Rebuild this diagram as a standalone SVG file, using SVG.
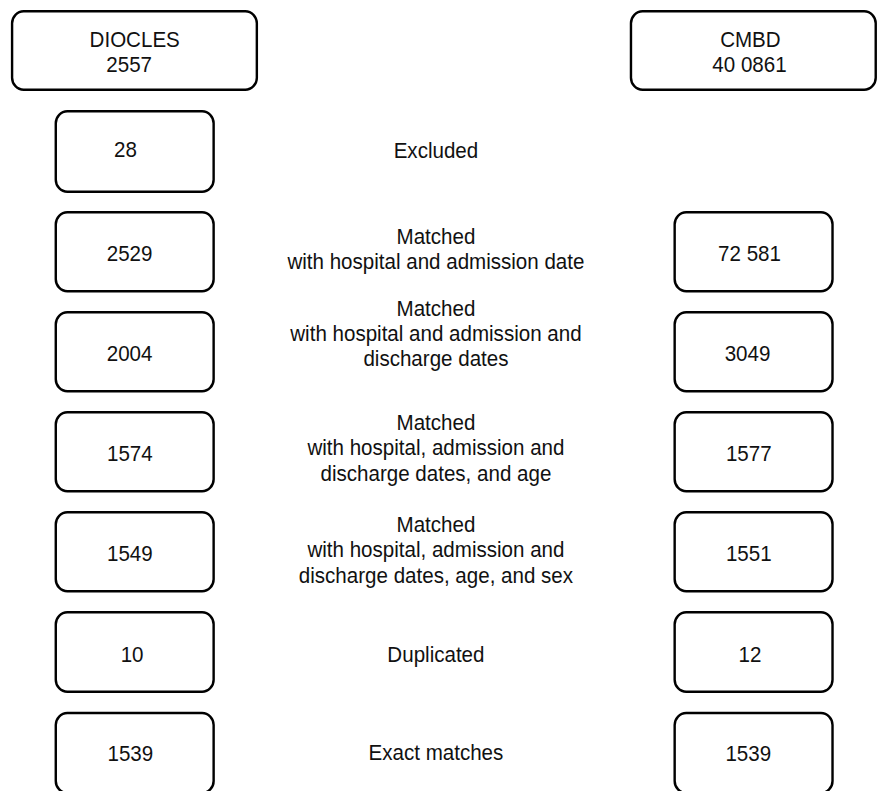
<svg xmlns="http://www.w3.org/2000/svg" width="895" height="791" viewBox="0 0 895 791">
<style>
.box{fill:#fff;stroke:#000;stroke-width:2.5}
text{font-family:"Liberation Sans",Arial,sans-serif;font-size:21.3px;fill:#111;text-anchor:middle}
</style>
<rect width="895" height="791" fill="#fff"/>
<g transform="matrix(0.9655 0 0 1 0.5 0)">
<g id="connectors"></g>
<g id="diocles"><rect class="box" x="12" y="11.25" width="253.5" height="78.5" rx="12"/><text x="139" y="46.7">DIOCLES</text><text x="133.3" y="72.3">2557</text></g>
<g id="cmbd"><rect class="box" x="653" y="11.25" width="253.5" height="78.5" rx="12"/><text x="776.7" y="46.7">CMBD</text><text x="775.8" y="72.3">40 0861</text></g>
<g id="left-28"><rect class="box" x="57.25" y="111.25" width="163.5" height="80.5" rx="12"/><text x="129.5" y="157.3">28</text></g>
<g id="label-excluded"><text x="451" y="158.5">Excluded</text></g>
<g id="left-2529"><rect class="box" x="57.25" y="212.25" width="163.5" height="79" rx="12"/><text x="133.7" y="261">2529</text></g>
<g id="label-matched1"><text x="451" y="244">Matched</text><text x="451" y="269">with hospital and admission date</text></g>
<g id="right-72581"><rect class="box" x="698.25" y="212.25" width="163.5" height="79" rx="12"/><text x="775.8" y="261">72 581</text></g>
<g id="left-2004"><rect class="box" x="57.25" y="312.25" width="163.5" height="79" rx="12"/><text x="133.7" y="361">2004</text></g>
<g id="label-matched2"><text x="451" y="315.7">Matched</text><text x="451" y="341.2">with hospital and admission and</text><text x="451" y="366.5">discharge dates</text></g>
<g id="right-3049"><rect class="box" x="698.25" y="312.25" width="163.5" height="79" rx="12"/><text x="773.7" y="361">3049</text></g>
<g id="left-1574"><rect class="box" x="57.25" y="412.25" width="163.5" height="79" rx="12"/><text x="134" y="461">1574</text></g>
<g id="label-matched3"><text x="451" y="430">Matched</text><text x="451" y="455.5">with hospital, admission and</text><text x="451" y="480.8">discharge dates, and age</text></g>
<g id="right-1577"><rect class="box" x="698.25" y="412.25" width="163.5" height="79" rx="12"/><text x="775" y="461">1577</text></g>
<g id="left-1549"><rect class="box" x="57.25" y="512.25" width="163.5" height="79" rx="12"/><text x="134" y="561">1549</text></g>
<g id="label-matched4"><text x="451" y="531.7">Matched</text><text x="451" y="557.5">with hospital, admission and</text><text x="451" y="583.3">discharge dates, age, and sex</text></g>
<g id="right-1551"><rect class="box" x="698.25" y="512.25" width="163.5" height="79" rx="12"/><text x="775" y="561">1551</text></g>
<g id="left-10"><rect class="box" x="57.25" y="612.25" width="163.5" height="79.5" rx="12"/><text x="136.3" y="661.7">10</text></g>
<g id="label-duplicated"><text x="451" y="661.7">Duplicated</text></g>
<g id="right-12"><rect class="box" x="698.25" y="612.25" width="163.5" height="79.5" rx="12"/><text x="776.2" y="661.7">12</text></g>
<g id="left-1539"><rect class="box" x="57.25" y="713" width="163.5" height="80" rx="12"/><text x="134.5" y="760.7">1539</text></g>
<g id="label-exact"><text x="451" y="760.5">Exact matches</text></g>
<g id="right-1539"><rect class="box" x="698.25" y="713" width="163.5" height="80" rx="12"/><text x="774.5" y="760.7">1539</text></g>
</g>
</svg>
